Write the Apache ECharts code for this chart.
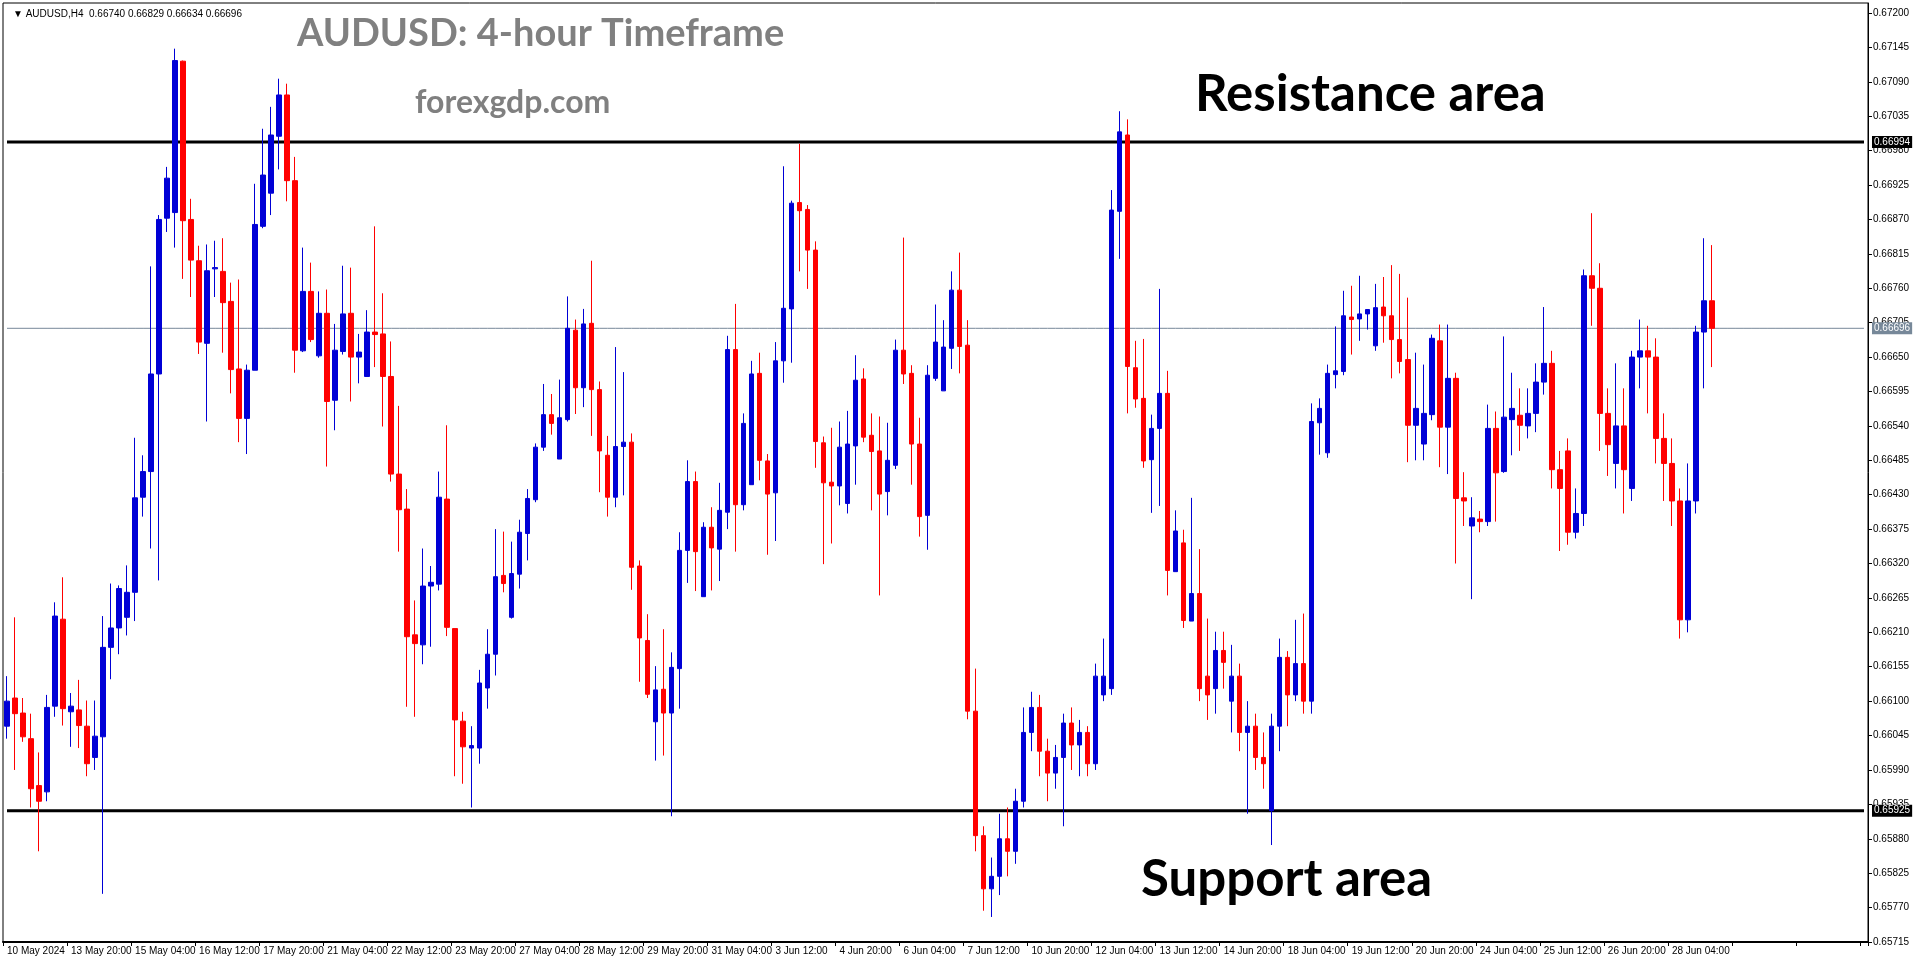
<!DOCTYPE html>
<html>
<head>
<meta charset="utf-8">
<script src="https://cdn.jsdelivr.net/npm/echarts@6/dist/echarts.min.js"></script>
<style>
  html, body { margin: 0; padding: 0; background: #fff; }
  #chart { width: 1916px; height: 964px; }
</style>
</head>
<body>
<div id="chart"></div>
<script>
// prices in 1/100000 (points)
const opens = [66060,66105,66081,66040,65965,65955,66092,66231,66083,66086,66060,66010,66043,66186,66217,66234,66274,66426,66467,66623,
  66872,66881,67123,66870,66804,66672,66791,66787,66739,66631,66552,66629,66859,66912,67003,67069,66932,66660,66755,66652,
  66720,66581,66659,66720,66650,66619,66690,66687,66619,66463,66407,66206,66190,66284,66287,66423,66216,66068,66025,66025,
  66121,66175,66301,66234,66303,66368,66422,66506,66558,66487,66550,66693,66601,66704,66598,66493,66426,66507,66514,66316,
  66197,66067,66119,66081,66152,66341,66451,66267,66378,66343,66402,66662,66414,66446,66624,66484,66433,66644,66727,66897,
  66886,66821,66513,66450,66444,66416,66508,66615,66525,66500,66435,66477,66661,66624,66511,66397,66616,66596,66664,66757,
  66669,66084,65885,65800,65820,65880,65860,65940,66050,66090,66020,65985,66010,66065,66030,66050,66000,66110,66120,66883,
  67005,66633,66584,66486,66536,66592,66307,66353,66228,66272,66140,66120,66181,66100,66140,66050,66060,66010,65925,66060,
  66170,66110,66160,66100,66545,66497,66622,66627,66714,66711,66719,66668,66730,66716,66678,66646,66541,66511,66558,66676,
  66538,66616,66425,66380,66391,66387,66536,66467,66550,66557,66540,66560,66610,66640,66470,66500,66370,66400,66780,66760,
  66560,66480,66540,66440,66650,66660,66650,66520,66480,66420,66230,66420,66690,66740];
const highs = [66140,66234,66105,66080,66018,66110,66258,66298,66113,66134,66101,66101,66236,66288,66285,66317,66521,66493,66795,66877,
  66954,67143,67124,66903,66828,66830,66836,66840,66769,66774,66638,66927,67015,67050,67095,67087,66970,66825,66801,66755,
  66758,66703,66796,66793,66687,66725,66859,66752,66675,66572,66439,66261,66344,66316,66467,66541,66216,66083,66060,66150,
  66215,66375,66371,66355,66390,66439,66512,66607,66591,66614,66747,66710,66727,66804,66611,66524,66666,66626,66528,66325,
  66239,66156,66215,66178,66370,66485,66467,66386,66410,66449,66684,66735,66560,66644,66657,66495,66674,66955,66900,66991,
  66893,66835,66523,66537,66547,66564,66653,66632,66560,66555,66545,66678,66841,66637,66553,66637,66734,66709,66787,66817,
  66709,66152,65900,65850,65920,65930,65960,66090,66115,66110,66040,66030,66080,66090,66070,66060,66160,66200,66917,67043,
  67030,66676,66679,66558,66759,66628,66405,66374,66425,66343,66232,66211,66211,66190,66160,66100,66080,66050,66080,66200,
  66180,66230,66240,66576,66584,66638,66699,66756,66764,66780,66726,66767,66778,66797,66783,66745,66657,66638,66686,66702,
  66702,66625,66466,66426,66404,66574,66563,66683,66625,66600,66600,66640,66730,66660,66500,66520,66440,66790,66880,66800,
  66600,66640,66600,66660,66710,66700,66680,66560,66520,66440,66480,66700,66840,66829];
const lows = [66040,65990,66035,65930,65860,65940,66075,66061,66027,66025,65980,65990,65792,66135,66175,66205,66228,66395,66344,66293,
  66850,66825,66775,66746,66655,66547,66746,66657,66592,66514,66495,66629,66856,66877,66950,66899,66625,66658,66674,66649,
  66475,66533,66654,66579,66608,66619,66634,66539,66451,66339,66091,66075,66159,66187,66277,66204,65980,65968,65930,66000,
  66088,66141,66274,66232,66280,66325,66418,66500,66526,66487,66547,66559,66570,66524,66434,66395,66410,66429,66278,66131,
  66105,66005,66013,65916,66088,66289,66276,66267,66277,66292,66375,66339,66405,66446,66453,66334,66356,66609,66641,66787,
  66759,66473,66319,66352,66413,66400,66446,66514,66405,66269,66397,66471,66607,66446,66363,66342,66612,66596,66631,66624,
  66071,65860,65765,65755,65790,65820,65840,65930,66020,65980,65940,65960,65900,65990,65980,65980,65990,66100,66110,66807,
  66560,66569,66473,66401,66412,66269,66307,66217,66228,66100,66070,66080,66120,66050,66020,65920,65990,65960,65870,66020,
  66060,66100,66080,66080,66494,66489,66600,66621,66654,66676,66694,66660,66673,66616,66624,66482,66485,66485,66549,66474,
  66463,66320,66380,66263,66370,66380,66387,66465,66493,66500,66520,66530,66590,66440,66340,66350,66360,66380,66700,66500,
  66460,66440,66400,66420,66600,66560,66480,66420,66380,66200,66210,66400,66600,66634];
const closes = [66100,66080,66043,65960,65940,66090,66236,66088,66092,66061,66000,66044,66186,66217,66280,66274,66425,66467,66623,66870,
  66936,67124,66868,66805,66674,66788,66793,66737,66630,66552,66629,66862,66941,67005,67069,66932,66661,66755,66678,66720,
  66579,66661,66719,66650,66658,66690,66686,66619,66463,66406,66203,66192,66284,66290,66426,66218,66070,66027,66029,66129,
  66175,66299,66288,66304,66370,66424,66506,66558,66544,66553,66696,66601,66703,66598,66500,66426,66507,66514,66314,66201,
  66111,66118,66081,66154,66341,66451,66339,66378,66345,66405,66662,66414,66544,66623,66485,66431,66644,66728,66896,66884,
  66821,66515,66449,66444,66506,66511,66613,66522,66499,66431,66485,66661,66623,66511,66395,66621,66674,66666,66757,66667,
  66084,65885,65800,65820,65880,65860,65940,66050,66090,66020,65985,66010,66065,66030,66050,66000,66140,66140,66885,67010,
  66635,66583,66484,66536,66592,66309,66372,66229,66272,66120,66110,66181,66162,66140,66050,66060,66010,66000,66060,66170,
  66110,66160,66100,66547,66568,66624,66628,66716,66710,66719,66726,66729,66716,66678,66643,66541,66568,66560,66680,66538,
  66616,66424,66420,66393,66387,66536,66465,66554,66568,66541,66560,66610,66640,66470,66440,66370,66400,66780,66760,66560,
  66510,66540,66470,66650,66660,66650,66520,66480,66420,66230,66420,66690,66740,66696];

const dateLabels = ['10 May 2024','13 May 20:00','15 May 04:00','16 May 12:00','17 May 20:00','21 May 04:00','22 May 12:00',
  '23 May 20:00','27 May 04:00','28 May 12:00','29 May 20:00','31 May 04:00','3 Jun 12:00','4 Jun 20:00','6 Jun 04:00',
  '7 Jun 12:00','10 Jun 20:00','12 Jun 04:00','13 Jun 12:00','14 Jun 20:00','18 Jun 04:00','19 Jun 12:00','20 Jun 20:00',
  '24 Jun 04:00','25 Jun 12:00','26 Jun 20:00','28 Jun 04:00'];
const labelStep = 8;
const slotCount = 233;

const levels = [
  { value: 0.66696, color: '#778899', width: 1 },
  { value: 0.66994, color: '#000', width: 3 },
  { value: 0.65925, color: '#000', width: 3 }
];

const cats = [];
for (let i = 0; i < slotCount; i++) cats.push(i);
const candles = opens.map((o, i) => [o / 1e5, closes[i] / 1e5, lows[i] / 1e5, highs[i] / 1e5]);

const chart = echarts.init(document.getElementById('chart'));
const axisFont = { fontFamily: 'Liberation Sans', fontSize: 10, color: '#000' };

// horizontal levels drawn as flat lines across all slots, price box at the right end
const levelSeries = levels.map((lv) => ({
  type: 'line',
  data: cats.map(() => lv.value),
  showSymbol: false,
  silent: true,
  z: 1,
  lineStyle: { color: lv.color, width: lv.width },
  endLabel: {
    show: true, distance: 8, formatter: lv.value.toFixed(5),
    fontFamily: 'Liberation Sans', fontSize: 10, padding: [1, 2],
    backgroundColor: lv.color, color: '#fff'
  }
}));

chart.setOption({
  animation: false,
  backgroundColor: '#fff',
  title: [
    { text: 'AUDUSD: 4-hour Timeframe', left: 292, top: 10,
      textStyle: { fontFamily: 'Lato', fontWeight: 'bold', fontSize: 38, color: '#808080' } },
    { text: 'forexgdp.com', left: 410, top: 82,
      textStyle: { fontFamily: 'Lato', fontWeight: 'bold', fontSize: 32, color: '#808080' } },
    { text: 'Resistance area', left: 1190, top: 64,
      textStyle: { fontFamily: 'Lato', fontWeight: 'bold', fontSize: 51, color: '#000' } },
    { text: 'Support area', left: 1136, top: 849,
      textStyle: { fontFamily: 'Lato', fontWeight: 'bold', fontSize: 51, color: '#000' } },
    { text: '▼ AUDUSD,H4  0.66740 0.66829 0.66634 0.66696', left: 8, top: 4,
      textStyle: { fontFamily: 'Liberation Sans', fontWeight: 'normal', fontSize: 10, color: '#000' } }
  ],
  grid: { left: 3, right: 48, top: 3, bottom: 22, show: true, borderColor: '#000', borderWidth: 1 },
  xAxis: {
    type: 'category',
    data: cats,
    boundaryGap: true,
    axisLine: { lineStyle: { color: '#000', width: 2 } },
    axisTick: { show: true, interval: (i) => i % labelStep === 0, length: 4, lineStyle: { color: '#000' } },
    axisLabel: {
      ...axisFont,
      align: 'left',
      margin: 4,
      interval: (i) => i % labelStep === 0 && i / labelStep < dateLabels.length,
      formatter: (v, i) => dateLabels[i / labelStep] || ''
    },
    splitLine: { show: false }
  },
  yAxis: {
    type: 'value',
    position: 'right',
    min: 0.65715,
    max: 0.67216,
    interval: 0.00055,
    axisLine: { show: true, lineStyle: { color: '#000', width: 1 } },
    axisTick: { show: true, length: 4, lineStyle: { color: '#000' } },
    axisLabel: { ...axisFont, margin: 5, showMaxLabel: false, formatter: (v) => v.toFixed(5) },
    splitLine: { show: false }
  },
  series: [{
    type: 'candlestick',
    data: candles,
    barWidth: 5,
    z: 3,
    itemStyle: {
      color: '#0000d6', borderColor: '#0000d6',
      color0: '#ff0000', borderColor0: '#ff0000', borderWidth: 1
    }
  }, ...levelSeries]
});
</script>
</body>
</html>
